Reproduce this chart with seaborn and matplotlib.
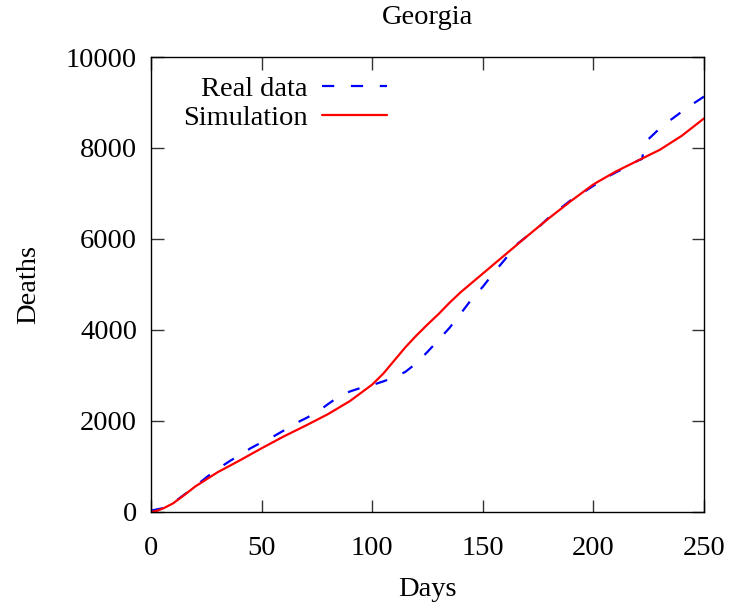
import matplotlib
matplotlib.use("Agg")
import matplotlib.pyplot as plt
import seaborn as sns
import pandas as pd

# Real data
real_days = [0, 5, 10, 15, 20, 25, 30, 35, 40, 45, 50, 55, 60, 65, 70, 75, 80, 85, 90, 95,
             100, 105, 110, 115, 120, 125, 130, 135, 140, 145, 150, 155, 160, 165, 170, 175,
             180, 185, 190, 195, 200, 205, 210, 215, 220, 222, 223, 225, 230, 235, 240, 245, 250]
real_deaths = [30, 80, 200, 380, 560, 760, 940, 1100, 1250, 1400, 1530, 1650, 1790, 1940, 2060,
               2190, 2370, 2540, 2650, 2730, 2790, 2870, 2960, 3080, 3270, 3520, 3780, 4050,
               4360, 4680, 4950, 5260, 5550, 5870, 6060, 6250, 6480, 6670, 6860, 7010, 7170,
               7330, 7460, 7580, 7720, 7760, 8000, 8200, 8430, 8620, 8800, 8970, 9130]

# Simulation
sim_days = [0, 3, 6, 10, 15, 20, 30, 40, 50, 60, 70, 80, 90, 100, 105, 110, 115, 120, 125, 130,
            135, 140, 150, 160, 170, 180, 190, 200, 210, 220, 230, 240, 250]
sim_deaths = [0, 30, 90, 190, 370, 560, 870, 1130, 1400, 1660, 1900, 2150, 2440, 2800, 3040,
              3330, 3620, 3880, 4120, 4350, 4600, 4830, 5240, 5650, 6060, 6460, 6840, 7200,
              7480, 7720, 7960, 8270, 8650]

x_ticks = [0, 50, 100, 150, 200, 250]
y_ticks = [0, 2000, 4000, 6000, 8000, 10000]

sns.set_theme(style="ticks")
plt.rcParams["font.family"] = ["Liberation Serif", "DejaVu Serif"]
plt.rcParams["text.color"] = "black"
plt.rcParams["axes.labelcolor"] = "black"

FS = 20.5
fig = plt.figure(figsize=(7.29, 6.09), dpi=100)
ax = fig.add_axes([0.2071, 0.1593, 0.7586, 0.7471])

real_df = pd.DataFrame({"Days": real_days, "Deaths": real_deaths})
sim_df = pd.DataFrame({"Days": sim_days, "Deaths": sim_deaths})

sns.lineplot(data=real_df, x="Days", y="Deaths", ax=ax, color="#0000ff", lw=1.6,
             label="Real data")
ax.lines[-1].set_dashes((5.5, 7.5))
sns.lineplot(data=sim_df, x="Days", y="Deaths", ax=ax, color="#ff0000", lw=1.6,
             label="Simulation")

ax.set_xlim(0, 250)
ax.set_ylim(0, 10000)
ax.set_xticks(x_ticks)
ax.set_yticks(y_ticks)
ax.set_xticklabels([str(t) for t in x_ticks])
ax.set_yticklabels([str(t) for t in y_ticks])

for s in ax.spines.values():
    s.set_visible(True)
    s.set_color("black")
    s.set_linewidth(1.0)

ax.tick_params(axis="both", direction="in", length=9, width=1.0, color="#333333",
               labelsize=FS, top=True, right=True, labelcolor="black")
ax.tick_params(axis="x", pad=17)
ax.tick_params(axis="y", pad=10)

ax.set_xlabel("Days", fontsize=FS, labelpad=12, color="black")
ax.set_ylabel("Deaths", fontsize=FS, labelpad=18, color="black")
ax.set_title("Georgia", fontsize=FS, pad=24, color="black")

leg = ax.legend(loc="upper left", bbox_to_anchor=(0.058, 0.958), frameon=False,
                fontsize=FS, markerfirst=False, handlelength=2.3, handletextpad=0.5,
                labelspacing=0.12, borderpad=0, borderaxespad=0)
for t in leg.get_texts():
    t.set_color("black")

fig.savefig("out.png", dpi=100)
